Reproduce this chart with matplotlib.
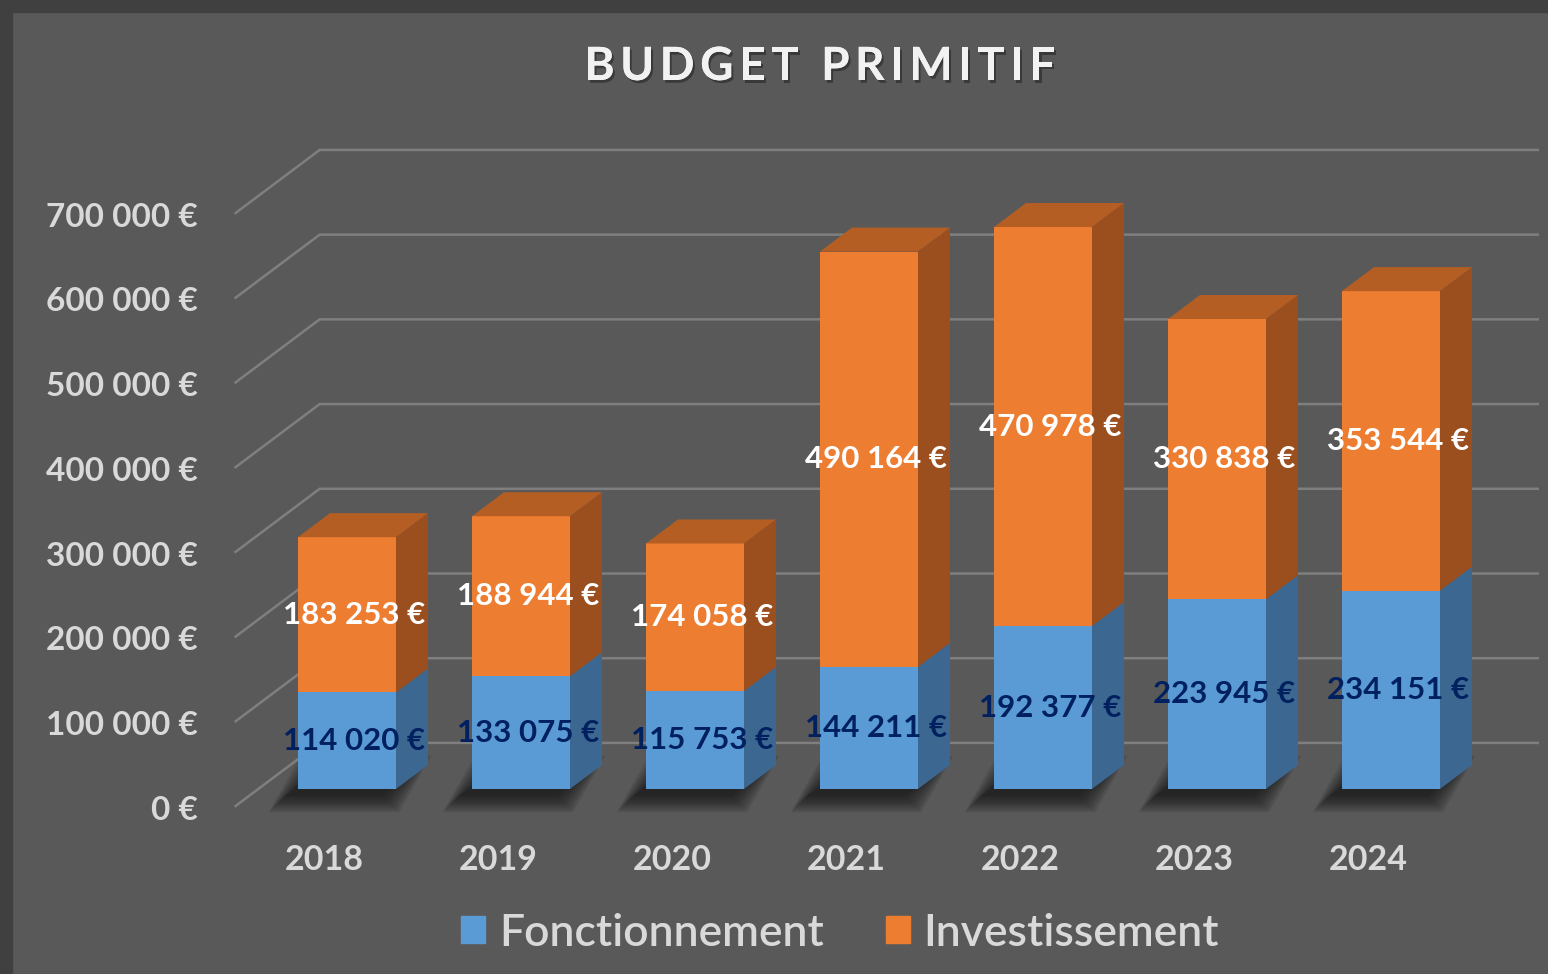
import numpy as np
import matplotlib.pyplot as plt
from matplotlib.patches import Polygon, Rectangle
from matplotlib.font_manager import FontProperties
import matplotlib.patheffects as pe

years = ["2018", "2019", "2020", "2021", "2022", "2023", "2024"]
fonctionnement = [114020, 133075, 115753, 144211, 192377, 223945, 234151]
investissement = [183253, 188944, 174058, 490164, 470978, 330838, 353544]
y_ticks = [0, 100000, 200000, 300000, 400000, 500000, 600000, 700000]
title = "BUDGET PRIMITIF"

BG = "#595959"
BLUE, BLUE_SIDE = "#5b9bd5", "#3b6790"
ORANGE, ORANGE_SIDE, ORANGE_TOP = "#ed7d31", "#9b4e1e", "#b55e23"
GRID = "#7f7f7f"
TXT = "#d9d9d9"
NAVY = "#002060"

W, H = 1548, 974
# pixel scales of the fake 3D projection
PX_CAT = 174.0            # px per category
PX_EUR = 593.0 / 700000   # px per euro
DX = 32 / PX_CAT          # depth vector (one bar depth) in data units
DY = 24 / PX_EUR
BAR_W = 98 / PX_CAT
D_FRONT, D_BACK = -0.71, 1.92
X0, X1 = -0.51, 6.49


def euro(v):
    return f"{v:,}".replace(",", " ") + " €"


fig = plt.figure(figsize=(W / 100, H / 100), dpi=100, facecolor=BG)
ax = fig.add_axes([0, 0, 1, 1])
ax.set_facecolor("none")
ax.axis("off")
ax.set_xlim(-347 / PX_CAT, (W - 347) / PX_CAT)
ax.set_ylim((789 - H) / PX_EUR, 789 / PX_EUR)

# dark frame on top and left
fig.patches.append(Rectangle((0, 1 - 12 / H), 1, 12 / H, transform=fig.transFigure, color="#404040", zorder=0))
fig.patches.append(Rectangle((0, 0), 12 / W, 1, transform=fig.transFigure, color="#404040", zorder=0))

# gridlines: diagonal on the floor side, then along the back wall
for v in y_ticks:
    xf, yf = X0 + D_FRONT * DX, v + D_FRONT * DY
    xb, yb = X0 + D_BACK * DX, v + D_BACK * DY
    ax.plot([xf, xb, X1 + D_BACK * DX], [yf, yb, yb], color=GRID, lw=1.8, zorder=1,
            solid_joinstyle="miter")
    ax.annotate(euro(v), (xf, yf), xytext=(-27, -3), textcoords="offset points",
                ha="right", va="center", fontsize=24, fontweight="bold",
                color=TXT, family="Lato")

x = np.arange(len(years))
fon = np.array(fonctionnement)
inv = np.array(investissement)
tot = fon + inv

# soft shadow under each bar, shifted to the front-left
sx, sy = 13 / PX_CAT, 7 / PX_EUR
for xi in x:
    l, r = xi - BAR_W / 2, xi + BAR_W / 2
    for k in range(8):
        g = k * 2.3 / PX_CAT
        gy = k * 2.3 / PX_EUR
        pts = [(l - sx - g, -sy - gy), (r - sx + g, -sy - gy),
               (r + DX - sx + g, DY - sy + gy), (l + DX - sx - g, DY - sy + gy)]
        ax.add_patch(Polygon(pts, closed=True, color="#0d0d0d", alpha=0.12, lw=0, zorder=2))

ax.bar(x, fon, width=BAR_W, color=BLUE, zorder=3, label="Fonctionnement")
ax.bar(x, inv, bottom=fon, width=BAR_W, color=ORANGE, zorder=3, label="Investissement")

for xi, f, t in zip(x, fon, tot):
    r = xi + BAR_W / 2
    l = xi - BAR_W / 2
    ax.add_patch(Polygon([(r, 0), (r + DX, DY), (r + DX, f + DY), (r, f)], color=BLUE_SIDE, lw=0, zorder=3))
    ax.add_patch(Polygon([(r, f), (r + DX, f + DY), (r + DX, t + DY), (r, t)], color=ORANGE_SIDE, lw=0, zorder=3))
    ax.add_patch(Polygon([(l, t), (r, t), (r + DX, t + DY), (l + DX, t + DY)], color=ORANGE_TOP, lw=0, zorder=3))

# data labels
for xi, f, i_ in zip(x, fon, inv):
    ax.text(xi + 0.04, f / 2, euro(f), ha="center", va="center", fontsize=22.5,
            fontweight="bold", color=NAVY, family="Lato", zorder=5)
    ax.text(xi + 0.04, f + i_ / 2, euro(i_), ha="center", va="center", fontsize=22.5,
            fontweight="bold", color="white", family="Lato", zorder=5)

# category labels at the front edge of the floor
for xi, yr in zip(x, years):
    ax.annotate(yr, (xi + D_FRONT * DX, D_FRONT * DY), xytext=(0, -39), textcoords="offset points",
                ha="center", va="center", fontsize=24.5, fontweight="bold", color=TXT, family="Lato")

# title with letter spacing, one glyph at a time
fp = FontProperties(family="Lato", weight="bold", size=33)
renderer = fig.canvas.get_renderer()
track = 5.5
widths = [renderer.get_text_width_height_descent(c if c != " " else "i", fp, ismath=False)[0] for c in title]
widths = [w if c != " " else w * 1.0 for w, c in zip(widths, title)]
total = sum(widths) + track * (len(title) - 1)
xpos = 820 - total / 2
for c, w in zip(title, widths):
    if c != " ":
        fig.text(xpos / W, 1 - 67 / H, c, ha="left", va="center", fontproperties=fp, color="#f2f2f2",
                 path_effects=[pe.withSimplePatchShadow(offset=(1.5, -2), shadow_rgbFace="black", alpha=0.35),
                               pe.Normal()])
    xpos += w + track

handles = [Rectangle((0, 0), 1, 1, color=BLUE), Rectangle((0, 0), 1, 1, color=ORANGE)]
leg = fig.legend(handles, ["Fonctionnement", "Investissement"], loc="center",
                 bbox_to_anchor=(840 / W, 1 - 933 / H), ncol=2, frameon=False,
                 handlelength=0.55, handleheight=0.55, handletextpad=0.3, columnspacing=1.4,
                 prop={"family": "Lato", "size": 32, "weight": "semibold"})
for t in leg.get_texts():
    t.set_color(TXT)

fig.savefig("out.png", dpi=100, facecolor=BG)
